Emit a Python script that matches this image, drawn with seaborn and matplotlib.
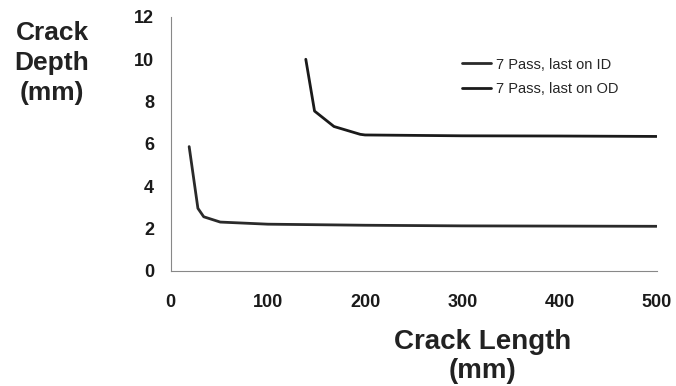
import matplotlib
matplotlib.use("Agg")
import matplotlib.pyplot as plt
import seaborn as sns
import pandas as pd

# Data
id_length = [19, 28, 34, 51, 100, 200, 300, 400, 500]
id_depth = [5.87, 2.95, 2.55, 2.3, 2.2, 2.15, 2.12, 2.11, 2.1]
od_length = [139, 148, 168, 195, 200, 300, 400, 500]
od_depth = [10.0, 7.55, 6.82, 6.45, 6.42, 6.38, 6.37, 6.35]
series_names = ["7 Pass, last on ID", "7 Pass, last on OD"]
x_ticks = [0, 100, 200, 300, 400, 500]
y_ticks = [0, 2, 4, 6, 8, 10, 12]

df = pd.concat([
    pd.DataFrame({"length": id_length, "depth": id_depth, "series": series_names[0]}),
    pd.DataFrame({"length": od_length, "depth": od_depth, "series": series_names[1]}),
])

sns.set_style("white")
plt.rcParams["font.family"] = ["Liberation Sans", "DejaVu Sans"]

fig = plt.figure(figsize=(6.76, 3.86), dpi=100)
ax = fig.add_axes([0.2525, 0.2987, 0.9714 - 0.2525, 0.956 - 0.2987])

sns.lineplot(data=df, x="length", y="depth", hue="series", sort=False,
             palette={series_names[0]: "#2a2a2a", series_names[1]: "#1a1a1a"},
             linewidth=2.0, ax=ax, legend=True)

ax.set_xlim(0, 500)
ax.set_ylim(0, 12)
ax.set_xticks(x_ticks)
ax.set_yticks(y_ticks)
ax.set_xticklabels([str(v) for v in x_ticks], fontsize=13, fontweight="bold", color="#1a1a1a")
ax.set_yticklabels([str(v) for v in y_ticks], fontsize=13, fontweight="bold", color="#1a1a1a")
ax.tick_params(axis="both", which="major", direction="out", length=4, width=0.8, color="#777777")
ax.tick_params(axis="x", pad=13)
ax.tick_params(axis="y", pad=8)

for s in ["top", "right"]:
    ax.spines[s].set_visible(False)
for s in ["left", "bottom"]:
    ax.spines[s].set_color("#888888")
    ax.spines[s].set_linewidth(0.8)

ax.set_xlabel("")
ax.set_ylabel("")

fig.text(0.077, 0.945, "Crack\nDepth\n(mm)", ha="center", va="top", fontsize=19,
         fontweight="bold", color="#222222", linespacing=1.32)
fig.text(0.714, 0.148, "Crack Length\n(mm)", ha="center", va="top", fontsize=20,
         fontweight="bold", color="#222222", linespacing=1.15)

leg = ax.legend(loc="upper left", bbox_to_anchor=(0.6, 0.84), frameon=False,
                borderpad=0, borderaxespad=0,
                fontsize=10.5, handlelength=2.0, handletextpad=0.3, labelspacing=0.7)
for line in leg.get_lines():
    line.set_linewidth(2.0)

fig.savefig("out.png", dpi=100, facecolor="white")
